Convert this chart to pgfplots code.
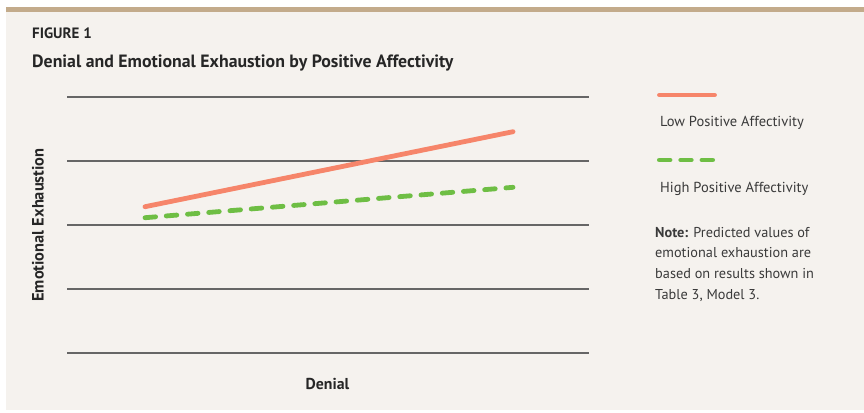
\documentclass[border=0pt]{standalone}
\usepackage{pgfplots}
\pgfplotsset{compat=1.18}
\usepackage{fontspec}
\setmainfont{PT Sans}
\definecolor{bg}{HTML}{F5F2EE}
\definecolor{tanline}{HTML}{C3AB8B}
\definecolor{salmon}{HTML}{F6856A}
\definecolor{lgreen}{HTML}{6EBE44}
\definecolor{gridc}{HTML}{666666}
\definecolor{txt}{HTML}{262626}
\definecolor{txtl}{HTML}{3A3A3A}
\begin{document}
\begin{tikzpicture}[x=1bp,y=1bp]
\useasboundingbox (0,0) rectangle (864,-412);
\fill[white] (0,0) rectangle (864,-412);
\fill[bg] (6,-12) rectangle (864,-410);
\fill[tanline] (6,-7) rectangle (864,-12);
\node[anchor=base west, inner sep=0, text=txt, font=\fontsize{15bp}{17bp}\selectfont\bfseries] at (32,-38.3) {FIGURE 1};
\node[anchor=base west, inner sep=0, text=txt, font=\fontsize{17.8bp}{20bp}\selectfont\bfseries] at (32,-67.5) {Denial and Emotional Exhaustion by Positive Affectivity};
\begin{axis}[at={(67bp,-353bp)}, anchor=south west, scale only axis,
  width=522bp, height=256bp,
  xmin=-1.424, xmax=1.413, ymin=0, ymax=4,
  axis line style={draw=none},
  xtick=\empty, ytick={0,1,2,3,4}, yticklabels={},
  major tick length=0pt,
  ymajorgrids, grid style={gridc, line width=1.1bp},
  clip=false]
\addplot[salmon, line width=4.8bp, line cap=round] coordinates {(-1,2.286) (1,3.458)};
\addplot[lgreen, line width=4.8bp, line cap=round, dash pattern=on 10.6bp off 10.7bp] coordinates {(-1,2.114) (1,2.589)};
\end{axis}
\node[anchor=base, inner sep=0, text=txt, font=\fontsize{15.8bp}{18bp}\selectfont\bfseries] at (327.5,-389) {Denial};
\node[anchor=center, inner sep=0, rotate=90, text=txt, font=\fontsize{16.4bp}{18bp}\selectfont\bfseries] at (38,-225) {Emotional Exhaustion};
% legend
\draw[salmon, line width=4.8bp, line cap=round] (659.5,-95) -- (714.5,-95);
\node[anchor=base west, inner sep=0, text=txtl, font=\fontsize{14.5bp}{16bp}\selectfont] at (660,-126) {Low Positive Affectivity};
\draw[lgreen, line width=4.8bp, line cap=round, dash pattern=on 10.6bp off 10.7bp] (659.4,-160) -- (714,-160);
\node[anchor=base west, inner sep=0, text=txtl, font=\fontsize{14.5bp}{16bp}\selectfont] at (660,-192) {High Positive Affectivity};
\node[anchor=base west, inner sep=0, text=txtl, font=\fontsize{14.3bp}{20.8bp}\selectfont, align=left] at (655,-299.5) {\textbf{Note:} Predicted values of\\emotional exhaustion are\\based on results shown in\\Table 3, Model 3.};
\end{tikzpicture}
\end{document}
